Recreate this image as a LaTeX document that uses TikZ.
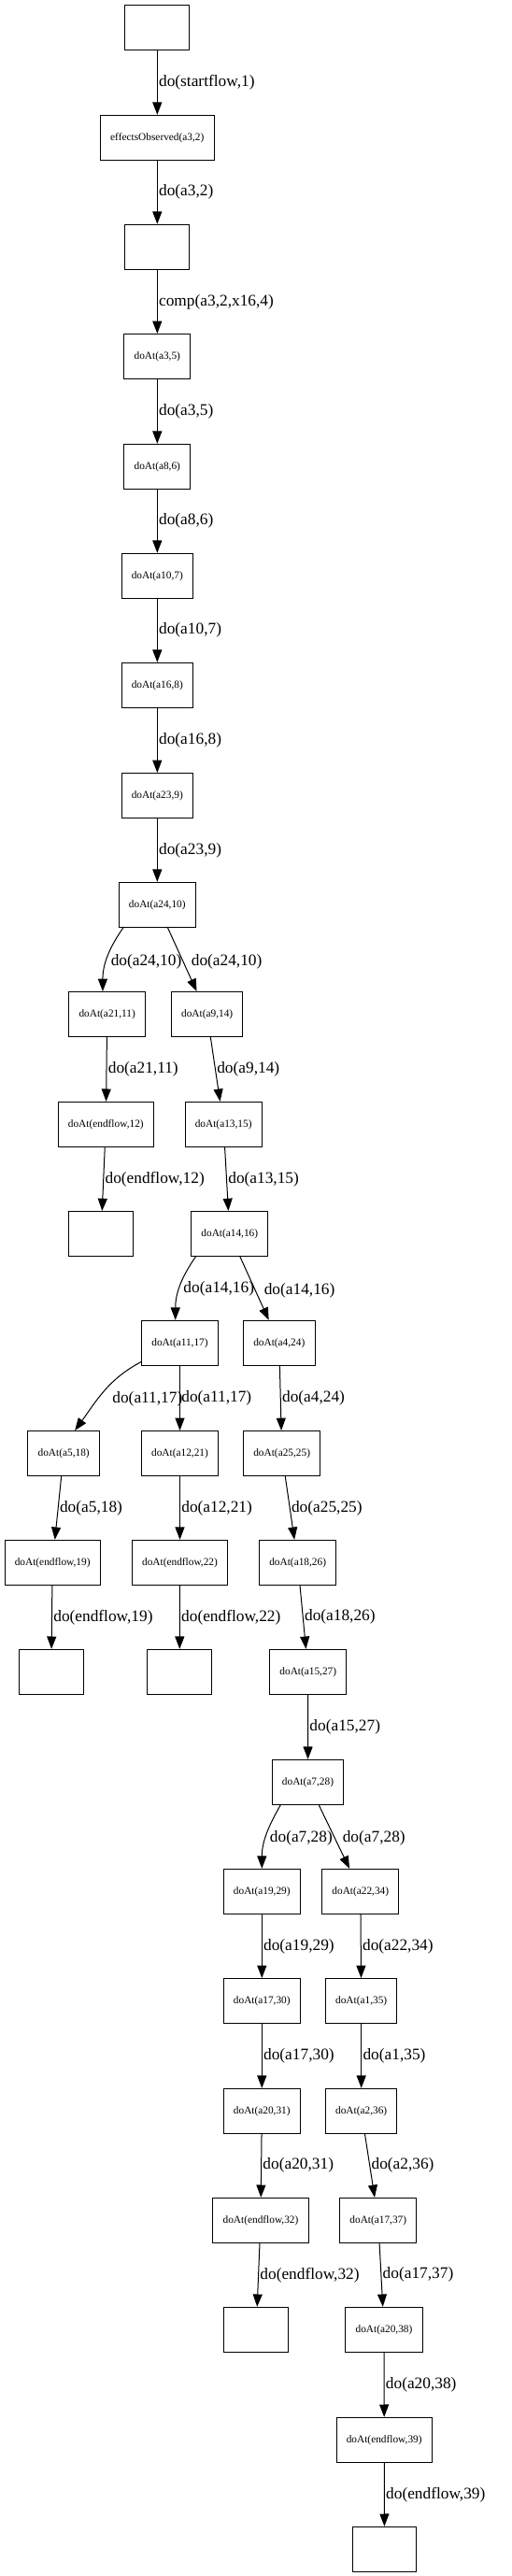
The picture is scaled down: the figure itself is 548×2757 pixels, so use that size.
\documentclass[tikz,border=0pt]{standalone}
\usepackage{fontspec}
\setmainfont{Liberation Serif}
\usetikzlibrary{arrows.meta,positioning}
\tikzset{
  statenode/.style={draw,line width=0.75pt,minimum width=52pt,minimum height=36pt,inner xsep=8pt,align=center,font=\fontsize{8.5}{10}\selectfont},
  emptynode/.style={statenode,minimum width=51.5pt},
  edgearrow/.style={-{Triangle[length=10pt,width=7.5pt]},line width=0.75pt},
  edgelabel/.style={font=\fontsize{13}{15}\selectfont,inner sep=1pt,anchor=west}
}
\begin{document}
\begin{tikzpicture}[x=0.75pt,y=-0.75pt]
  \useasboundingbox (0,0) rectangle (548,2757);

  % main trunk
  \node[emptynode] (s0) at (168.3,29.3) {};
  \node[statenode] (obs) at (168.3,147.3) {effectsObserved(a3,2)};
  \node[emptynode] (s2) at (168.3,264.3) {};
  \node[statenode] (a3) at (168.3,381.5) {doAt(a3,5)};
  \node[statenode] (a8) at (168.3,499.3) {doAt(a8,6)};
  \node[statenode] (a10) at (168.3,616.3) {doAt(a10,7)};
  \node[statenode] (a16) at (168.3,733.3) {doAt(a16,8)};
  \node[statenode] (a23) at (168.3,851.5) {doAt(a23,9)};
  \node[statenode] (a24) at (168.3,968.3) {doAt(a24,10)};

  % first split
  \node[statenode] (a21) at (114.7,1085.5) {doAt(a21,11)};
  \node[statenode] (a9) at (221.7,1085.5) {doAt(a9,14)};
  \node[statenode] (end12) at (113.3,1203.3) {doAt(endflow,12)};
  \node[statenode] (a13) at (239.2,1203.3) {doAt(a13,15)};
  \node[emptynode] (s12) at (108.2,1320.5) {};
  \node[statenode] (a14) at (245.8,1320.5) {doAt(a14,16)};

  % second split
  \node[statenode] (a11) at (192.5,1437.3) {doAt(a11,17)};
  \node[statenode] (a4) at (298.8,1437.3) {doAt(a4,24)};
  \node[statenode] (a5) at (68.2,1555.5) {doAt(a5,18)};
  \node[statenode] (a12) at (192.5,1555.5) {doAt(a12,21)};
  \node[statenode] (a25) at (301.7,1555.5) {doAt(a25,25)};
  \node[statenode] (end19) at (56.2,1672.3) {doAt(endflow,19)};
  \node[statenode] (end22) at (192.5,1672.3) {doAt(endflow,22)};
  \node[statenode] (a18) at (318.7,1672.3) {doAt(a18,26)};
  \node[emptynode] (s19) at (54.8,1789.3) {};
  \node[emptynode] (s22) at (192.2,1789.3) {};
  \node[statenode] (a15) at (329.8,1789.3) {doAt(a15,27)};
  \node[statenode] (a7) at (329.5,1907.3) {doAt(a7,28)};

  % third split
  \node[statenode] (a19) at (280.3,2024.3) {doAt(a19,29)};
  \node[statenode] (a22) at (385.8,2024.3) {doAt(a22,34)};
  \node[statenode] (a17) at (280.3,2141.5) {doAt(a17,30)};
  \node[statenode] (a1) at (386.7,2141.5) {doAt(a1,35)};
  \node[statenode] (a20) at (280.3,2259.3) {doAt(a20,31)};
  \node[statenode] (a2) at (386.7,2259.3) {doAt(a2,36)};
  \node[statenode] (end32) at (279,2376.3) {doAt(endflow,32)};
  \node[statenode] (a17b) at (404.8,2376.3) {doAt(a17,37)};
  \node[emptynode] (s32) at (274.2,2493.3) {};
  \node[statenode] (a20b) at (411,2493.3) {doAt(a20,38)};
  \node[statenode] (end39) at (411.2,2611.3) {doAt(endflow,39)};
  \node[emptynode] (s39) at (411.5,2728.3) {};

  % edges
  \draw[edgearrow] (s0) -- node[edgelabel] {do(startflow,1)} (obs);
  \draw[edgearrow] (obs) -- node[edgelabel] {do(a3,2)} (s2);
  \draw[edgearrow] (s2) -- node[edgelabel] {comp(a3,2,x16,4)} (a3);
  \draw[edgearrow] (a3) -- node[edgelabel] {do(a3,5)} (a8);
  \draw[edgearrow] (a8) -- node[edgelabel] {do(a8,6)} (a10);
  \draw[edgearrow] (a10) -- node[edgelabel] {do(a10,7)} (a16);
  \draw[edgearrow] (a16) -- node[edgelabel] {do(a16,8)} (a23);
  \draw[edgearrow] (a23) -- node[edgelabel] {do(a23,9)} (a24);
  \draw[edgearrow] (a24.214) to[out=235,in=90] node[edgelabel,xshift=1.5pt,yshift=-3pt] {do(a24,10)} (a21.101);
  \draw[edgearrow] (a24) -- node[edgelabel,xshift=6pt,yshift=-1.5pt] {do(a24,10)} (a9);
  \draw[edgearrow] (a21) -- node[edgelabel] {do(a21,11)} (end12);
  \draw[edgearrow] (a9) -- node[edgelabel] {do(a9,14)} (a13);
  \draw[edgearrow] (end12) -- node[edgelabel] {do(endflow,12)} (s12);
  \draw[edgearrow] (a13) -- node[edgelabel] {do(a13,15)} (a14);
  \draw[edgearrow] (a14.214) to[out=235,in=90] node[edgelabel,xshift=1.5pt,yshift=-2pt] {do(a14,16)} (a11.101);
  \draw[edgearrow] (a14) -- node[edgelabel,xshift=6.5pt,yshift=-1.5pt] {do(a14,16)} (a4);
  \draw[edgearrow] (a11.206) to[out=208,in=54] node[edgelabel,xshift=5.5pt,yshift=-6pt] {do(a11,17)} (a5.64);
  \draw[edgearrow] (a11) -- node[edgelabel] {do(a11,17)} (a12);
  \draw[edgearrow] (a4) -- node[edgelabel] {do(a4,24)} (a25);
  \draw[edgearrow] (a5) -- node[edgelabel] {do(a5,18)} (end19);
  \draw[edgearrow] (a12) -- node[edgelabel] {do(a12,21)} (end22);
  \draw[edgearrow] (a25) -- node[edgelabel] {do(a25,25)} (a18);
  \draw[edgearrow] (end19) -- node[edgelabel] {do(endflow,19)} (s19);
  \draw[edgearrow] (end22) -- node[edgelabel] {do(endflow,22)} (s22);
  \draw[edgearrow] (a18) -- node[edgelabel] {do(a18,26)} (a15);
  \draw[edgearrow] (a15) -- node[edgelabel] {do(a15,27)} (a7);
  \draw[edgearrow] (a7.220) to[out=240,in=90] node[edgelabel,xshift=1.5pt,yshift=-2pt] {do(a7,28)} (a19.north);
  \draw[edgearrow] (a7) -- node[edgelabel,xshift=5.5pt,yshift=-1.5pt] {do(a7,28)} (a22);
  \draw[edgearrow] (a19) -- node[edgelabel] {do(a19,29)} (a17);
  \draw[edgearrow] (a22) -- node[edgelabel] {do(a22,34)} (a1);
  \draw[edgearrow] (a17) -- node[edgelabel] {do(a17,30)} (a20);
  \draw[edgearrow] (a1) -- node[edgelabel] {do(a1,35)} (a2);
  \draw[edgearrow] (a20) -- node[edgelabel] {do(a20,31)} (end32);
  \draw[edgearrow] (a2) -- node[edgelabel] {do(a2,36)} (a17b);
  \draw[edgearrow] (end32) -- node[edgelabel] {do(endflow,32)} (s32);
  \draw[edgearrow] (a17b) -- node[edgelabel] {do(a17,37)} (a20b);
  \draw[edgearrow] (a20b) -- node[edgelabel] {do(a20,38)} (end39);
  \draw[edgearrow] (end39) -- node[edgelabel] {do(endflow,39)} (s39);
\end{tikzpicture}
\end{document}
